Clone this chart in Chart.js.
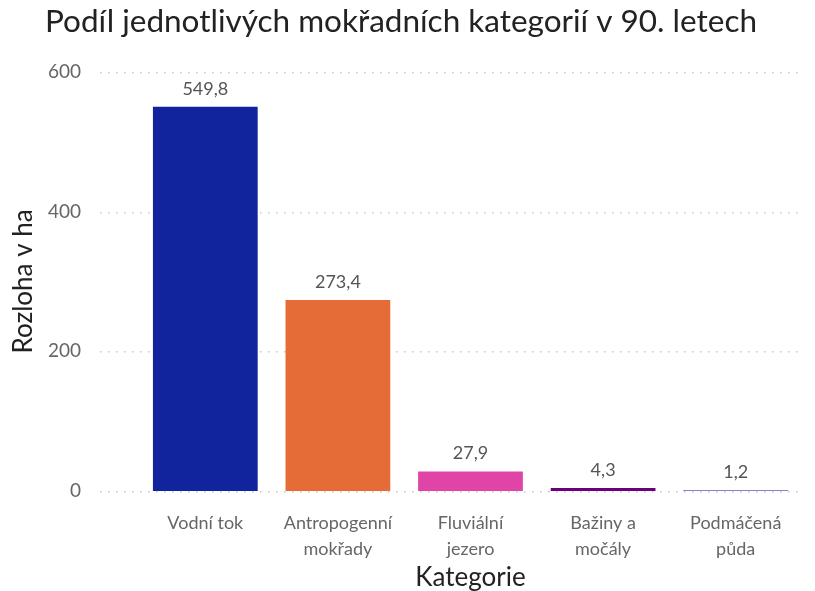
<!DOCTYPE html>
<html>
<head>
<meta charset="utf-8">
<script src="https://cdn.jsdelivr.net/npm/chart.js@4/dist/chart.umd.min.js"></script>
<style>
  body { margin: 0; background: #fff; }
</style>
</head>
<body>
<canvas id="myChart" width="815" height="591"></canvas>
<script>
const categories = [['Vodní tok'], ['Antropogenní', 'mokřady'], ['Fluviální', 'jezero'], ['Bažiny a', 'močály'], ['Podmáčená', 'půda']]
const values = [549.8, 273.4, 27.9, 4.3, 1.2]
const colors = ['#12239E', '#E66C37', '#E044A7', '#6B007B', '#744EC2']
const yTicks = [0, 200, 400, 600]

const fontFamily = "Lato, 'Open Sans', sans-serif"

// dotted grid lines reaching out past the bars
const dottedGrid = {
  id: 'dottedGrid',
  beforeDatasetsDraw(chart) {
    const { ctx, chartArea, scales } = chart
    ctx.save()
    ctx.fillStyle = '#c8c8c8'
    yTicks.forEach(t => {
      const y = Math.round(scales.y.getPixelForValue(t))
      for (let x = 100; x < chartArea.right - 4; x += 8) {
        ctx.fillRect(x, y, 1.5, 1.5)
      }
    })
    ctx.restore()
  }
}

// value labels above the bars, czech decimal comma
const valueLabels = {
  id: 'valueLabels',
  afterDatasetsDraw(chart) {
    const { ctx } = chart
    const meta = chart.getDatasetMeta(0)
    ctx.save()
    ctx.font = `18px ${fontFamily}`
    ctx.fillStyle = '#555'
    ctx.textAlign = 'center'
    ctx.textBaseline = 'bottom'
    meta.data.forEach((bar, i) => {
      ctx.fillText(values[i].toFixed(1).replace('.', ','), bar.x, bar.y - 9)
    })
    ctx.restore()
  }
}

const ctx = document.getElementById('myChart')
new Chart(ctx, {
  type: 'bar',
  data: {
    labels: categories,
    datasets: [{
      data: values,
      backgroundColor: colors,
      borderWidth: 0,
      barPercentage: 0.79,
      categoryPercentage: 1
    }]
  },
  options: {
    responsive: false,
    animation: false,
    layout: { padding: { left: 0, right: 13, top: 0, bottom: 0 } },
    scales: {
      x: {
        grid: { display: false },
        border: { display: false },
        ticks: { color: '#666', font: { family: fontFamily, size: 18, lineHeight: 1.4 }, padding: 12, maxRotation: 0 },
        title: { display: true, text: 'Kategorie', color: '#222', font: { family: fontFamily, size: 26, lineHeight: 1 }, padding: { top: 0, bottom: 0 } },
        afterFit(scale) { scale.height = 100 }
      },
      y: {
        min: 0,
        max: 600,
        grid: { display: false },
        border: { display: false },
        ticks: { stepSize: 200, color: '#666', font: { family: fontFamily, size: 19 }, padding: 50 },
        title: { display: true, text: 'Rozloha v ha', color: '#222', font: { family: fontFamily, size: 26 }, padding: { top: 8, bottom: 0 } },
        afterFit(scale) { scale.width = 139 }
      }
    },
    plugins: {
      legend: { display: false },
      tooltip: { enabled: false },
      title: {
        display: true,
        text: 'Podíl jednotlivých mokřadních kategorií v 90. letech',
        color: '#222',
        font: { family: fontFamily, size: 31.5, weight: 'normal' },
        padding: { top: 3, bottom: 31 }
      }
    }
  },
  plugins: [dottedGrid, valueLabels]
})
</script>
</body>
</html>
